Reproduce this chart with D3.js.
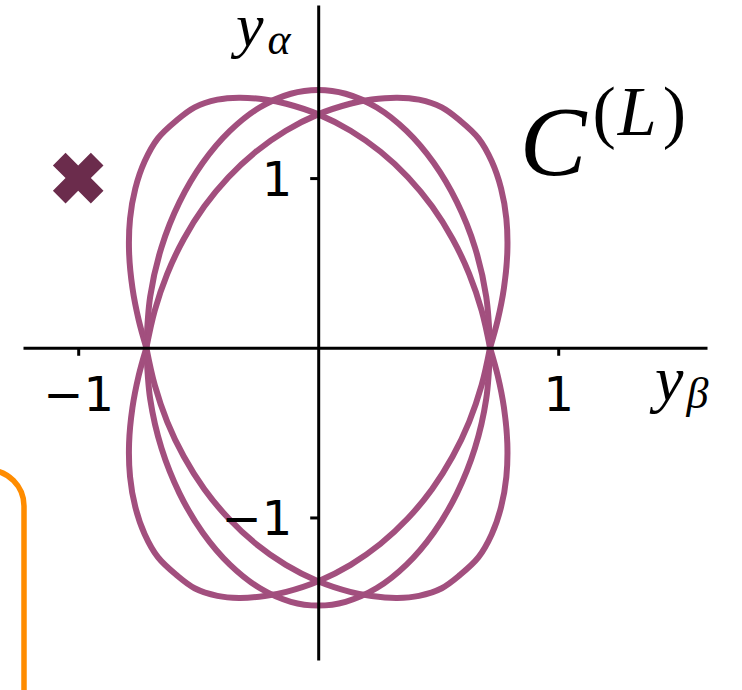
<!DOCTYPE html>
<html>
<head>
<meta charset="utf-8">
<script src="https://cdn.jsdelivr.net/npm/d3@7"></script>
<style>
  html, body { margin: 0; padding: 0; background: #ffffff; }
  svg { display: block; }
  .tick text { font-family: "DejaVu Sans", sans-serif; font-size: 48px; fill: #000; }
  .math { font-family: "Liberation Serif", "DejaVu Serif", serif; fill: #000; }
</style>
</head>
<body>
<svg id="chart" width="742" height="690"></svg>
<script>
// Axis extents (data units) and tick values
const xDomain = [-1.23, 1.62];
const yDomain = [-1.84, 2.02];
const xTicks = [-1, 1];
const yTicks = [-1, 1];

// Reference point drawn as a filled X
const markerPoint = [-1, 1];

// Family C^(L): three closed curves, each stored as an upper and a lower arc
// (the arcs meet at the two shared crossings on the y_beta axis).
const curveLUpper = [
  [0.716, 0.000], [0.681, 0.220], [0.629, 0.436], [0.560, 0.641], [0.475, 0.832],
  [0.374, 1.005], [0.260, 1.155], [0.135, 1.279], [0.003, 1.374], [-0.133, 1.438],
  [-0.223, 1.463], [-0.330, 1.474], [-0.420, 1.462], [-0.515, 1.417], [-0.590, 1.340],
  [-0.668, 1.234], [-0.723, 1.099], [-0.762, 0.939], [-0.784, 0.760], [-0.788, 0.563],
  [-0.774, 0.353], [-0.748, 0.164], [-0.716, 0.000]
];
const curveLLower = [
  [0.716, 0.000], [0.681, -0.220], [0.629, -0.436], [0.560, -0.641], [0.475, -0.832],
  [0.374, -1.005], [0.260, -1.155], [0.135, -1.279], [0.003, -1.374], [-0.133, -1.438],
  [-0.223, -1.463], [-0.330, -1.474], [-0.420, -1.462], [-0.515, -1.417], [-0.590, -1.340],
  [-0.668, -1.234], [-0.723, -1.099], [-0.762, -0.939], [-0.784, -0.760], [-0.788, -0.563],
  [-0.774, -0.353], [-0.748, -0.164], [-0.716, 0.000]
];
const curveMUpper = [
  [0.716, 0.000], [0.700, 0.302], [0.653, 0.592], [0.578, 0.858], [0.481, 1.090],
  [0.368, 1.278], [0.244, 1.416], [0.114, 1.497], [0.000, 1.519], [-0.114, 1.497],
  [-0.244, 1.416], [-0.368, 1.278], [-0.481, 1.090], [-0.578, 0.858], [-0.653, 0.592],
  [-0.700, 0.302], [-0.716, 0.000]
];
const curveMLower = [
  [0.716, 0.000], [0.700, -0.302], [0.653, -0.592], [0.578, -0.858], [0.481, -1.090],
  [0.368, -1.278], [0.244, -1.416], [0.114, -1.497], [0.000, -1.519], [-0.114, -1.497],
  [-0.244, -1.416], [-0.368, -1.278], [-0.481, -1.090], [-0.578, -0.858], [-0.653, -0.592],
  [-0.700, -0.302], [-0.716, 0.000]
];
const curveRUpper = [
  [-0.716, 0.000], [-0.681, 0.220], [-0.629, 0.436], [-0.560, 0.641], [-0.475, 0.832],
  [-0.374, 1.005], [-0.260, 1.155], [-0.135, 1.279], [-0.003, 1.374], [0.133, 1.438],
  [0.223, 1.463], [0.330, 1.474], [0.420, 1.462], [0.515, 1.417], [0.590, 1.340],
  [0.668, 1.234], [0.723, 1.099], [0.762, 0.939], [0.784, 0.760], [0.788, 0.563],
  [0.774, 0.353], [0.748, 0.164], [0.716, 0.000]
];
const curveRLower = [
  [-0.716, 0.000], [-0.681, -0.220], [-0.629, -0.436], [-0.560, -0.641], [-0.475, -0.832],
  [-0.374, -1.005], [-0.260, -1.155], [-0.135, -1.279], [-0.003, -1.374], [0.133, -1.438],
  [0.223, -1.463], [0.330, -1.474], [0.420, -1.462], [0.515, -1.417], [0.590, -1.340],
  [0.668, -1.234], [0.723, -1.099], [0.762, -0.939], [0.784, -0.760], [0.788, -0.563],
  [0.774, -0.353], [0.748, -0.164], [0.716, 0.000]
];
const arcs = [curveLUpper, curveLLower, curveMUpper, curveMLower, curveRUpper, curveRLower];

const curveColor = "#a24f7e";
const markerColor = "#6b2c4c";

const svg = d3.select("#chart");

const x = d3.scaleLinear().domain(xDomain).range([23, 707]);
const y = d3.scaleLinear().domain(yDomain).range([660, 5]);

// Panel frame peeking in at the lower left
svg.append("rect")
  .attr("x", -120).attr("y", 470)
  .attr("width", 144).attr("height", 320)
  .attr("rx", 36).attr("ry", 36)
  .attr("fill", "none")
  .attr("stroke", "#ff8c00")
  .attr("stroke-width", 5.5);

// Curves
const line = d3.line()
  .x(d => x(d[0]))
  .y(d => y(d[1]))
  .curve(d3.curveCatmullRom.alpha(0.5));

svg.append("g")
  .selectAll("path")
  .data(arcs)
  .join("path")
  .attr("d", line)
  .attr("fill", "none")
  .attr("stroke", curveColor)
  .attr("stroke-width", 6)
  .attr("stroke-linecap", "round")
  .attr("stroke-linejoin", "round");

// Axes through the origin
const fmt = d3.format("d");

const gx = svg.append("g")
  .attr("transform", `translate(0,${y(0)})`)
  .call(d3.axisBottom(x).tickValues(xTicks).tickFormat(fmt)
    .tickSizeInner(8).tickSizeOuter(0));
gx.selectAll("text").attr("y", 63).attr("dy", null);

const gy = svg.append("g")
  .attr("transform", `translate(${x(0)},0)`)
  .call(d3.axisLeft(y).tickValues(yTicks).tickFormat(fmt)
    .tickSizeInner(8).tickSizeOuter(0));
gy.selectAll("text").attr("x", -26).attr("dy", "0.36em");

svg.selectAll(".domain").attr("stroke", "#000").attr("stroke-width", 3);
svg.selectAll(".tick line").attr("stroke", "#000").attr("stroke-width", 3);

// Axis names
const ya = svg.append("text").attr("class", "math")
  .attr("x", 236).attr("y", 46).attr("font-size", 62);
ya.append("tspan").attr("font-style", "italic").text("y");
ya.append("tspan").attr("font-style", "italic").attr("font-size", 44)
  .attr("dx", 4).attr("dy", 8).text("α");

const yb = svg.append("text").attr("class", "math")
  .attr("x", 655).attr("y", 400).attr("font-size", 64);
yb.append("tspan").attr("font-style", "italic").text("y");
yb.append("tspan").attr("font-style", "italic").attr("font-size", 44)
  .attr("dx", 3).attr("dy", 8).text("β");

// Family label C^(L)
const cl = svg.append("text").attr("class", "math")
  .attr("x", x(0.84)).attr("y", y(1.02)).attr("font-size", 100);
cl.append("tspan").attr("font-style", "italic").text("C");
cl.append("tspan").attr("font-size", 70).attr("dx", 6).attr("dy", -40).text("(");
cl.append("tspan").attr("font-size", 70).attr("font-style", "italic").attr("dx", 2).text("L");
cl.append("tspan").attr("font-size", 70).attr("dx", 6).text(")");

// Marker
svg.append("path")
  .attr("d", d3.symbol().type(d3.symbolCross).size(1600)())
  .attr("transform", `translate(${x(markerPoint[0])},${y(markerPoint[1])}) rotate(45)`)
  .attr("fill", markerColor);
</script>
</body>
</html>
